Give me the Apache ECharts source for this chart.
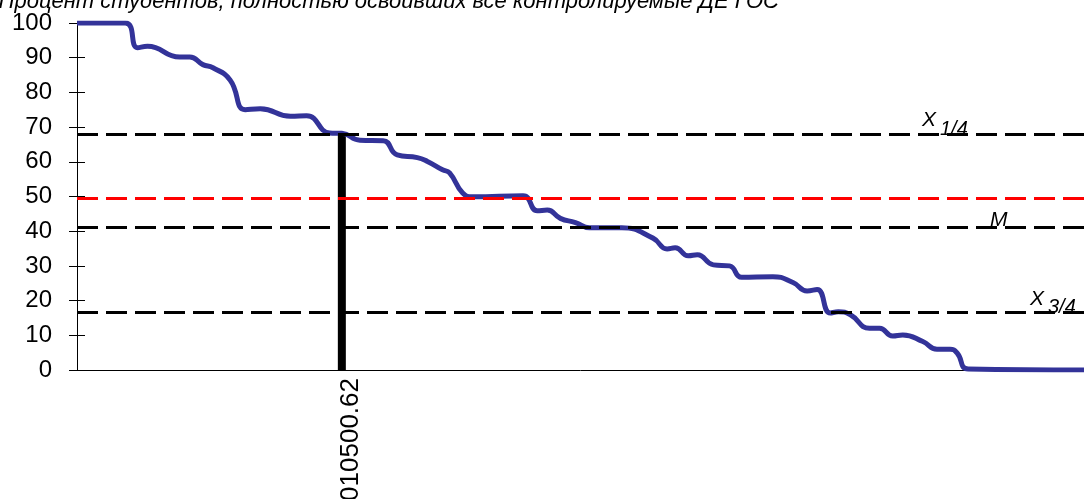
<!DOCTYPE html>
<html>
<head>
<meta charset="utf-8">
<script src="https://cdn.jsdelivr.net/npm/echarts@6/dist/echarts.min.js"></script>
<style>
html, body { margin: 0; padding: 0; background: #fff; }
#chart { width: 1084px; height: 499px; }
</style>
</head>
<body>
<div id="chart"></div>
<script>
// подпись сверху (обрезана в оригинале)
const titleText = 'Процент студентов, полностью освоивших все контролируемые ДЕ ГОС';

// позиция в ранжированном списке (0..100) и процент студентов
const rankPos = [0, 4.8, 6.0, 7.0, 10.2, 11.2, 12.5, 13.5, 15.2, 16.7, 18.2, 21.2, 22.8, 25.1, 26.3,
    28.1, 30.4, 31.8, 33.8, 34.8, 36.3, 37.0, 38.3, 39.3, 44.3, 45.7, 46.7, 48.0, 49.5, 50.9,
    54.1, 57.2, 58.6, 59.4, 60.7, 61.6, 63.2, 64.8, 66.0, 69.1, 71.1, 72.5, 73.5, 74.8, 75.6,
    76.8, 78.7, 79.7, 81.0, 82.0, 84.0, 85.4, 86.7, 87.4, 88.5, 100];
const percentVals = [100, 100, 92.9, 93.3, 90.2, 90.2, 88.0, 87.1, 83.6, 75.0, 75.3, 73.1, 73.3, 68.3, 68.2,
    66.2, 66.1, 62.0, 61.2, 60.1, 57.7, 56.8, 51.0, 49.9, 50.2, 45.9, 46.1, 43.7, 42.5, 41.0,
    41.0, 38.0, 34.9, 35.2, 32.9, 33.2, 30.3, 30.0, 26.7, 26.9, 25.2, 22.8, 23.2, 16.4, 16.8,
    15.9, 12.0, 12.0, 9.8, 10.1, 8.2, 6.0, 6.0, 4.9, 0.3, 0];

// уровни: квартили, среднее, медиана
const levelValues = [68.0, 49.6, 41.2, 16.6];
const levelColors = ['#000000', '#ff0000', '#000000', '#000000'];
const levelMain = ['X', '', 'M', 'X'];
const levelSub = ['1/4', '', '', '3/4'];

// выделенная специальность
const barCode = '010500.62';
const barPos = 26.3;
const barValue = 68.0;

const FONT = '"Liberation Sans", Arial, sans-serif';
const chart = echarts.init(document.getElementById('chart'));

const lineData = rankPos.map((x, i) => [x, percentVals[i]]);
const markData = levelValues.map((v, i) => ({
    yAxis: v,
    lineStyle: { color: levelColors[i], width: 3, type: [21, 8] }
}));

chart.setOption({
    animation: false,
    grid: { left: 77, right: 0, top: 23, bottom: 129, outerBoundsMode: 'none', containLabel: false },
    xAxis: {
        type: 'value', min: 0, max: 100,
        splitLine: { show: false },
        axisLine: { lineStyle: { color: '#000', width: 1 } },
        axisTick: { show: false },
        axisLabel: {
            customValues: [barPos],
            formatter: () => barCode,
            rotate: 90,
            verticalAlign: 'top',
            lineHeight: 18,
            fontSize: 26, color: '#000', fontFamily: FONT, margin: 8
        }
    },
    yAxis: [{
        type: 'value', min: 0, max: 100, interval: 10,
        splitLine: { show: false },
        axisLine: { show: true, lineStyle: { color: '#000', width: 1 } },
        axisTick: { show: true, length: 8, lineStyle: { color: '#000' } },
        axisLabel: { fontSize: 24, color: '#000', fontFamily: FONT, margin: 25 }
    }, {
        // засечки внутрь, чтобы были крестиком
        type: 'value', min: 0, max: 100, interval: 10, position: 'left',
        splitLine: { show: false },
        axisLine: { show: false },
        axisTick: { show: true, inside: true, length: 8, lineStyle: { color: '#000' } },
        axisLabel: { show: false }
    }],
    series: [{
        type: 'bar',
        data: [[barPos, barValue]],
        barWidth: 8,
        itemStyle: { color: '#000' },
        z: 1
    }, {
        type: 'line',
        data: lineData,
        smooth: 0.5,
        showSymbol: false,
        lineStyle: { color: '#333399', width: 5 },
        z: 2,
        markLine: {
            symbol: 'none',
            silent: true,
            label: { show: false },
            data: markData
        }
    }]
});

// подписи уровней и заголовок
const labelX = [922, 0, 990, 1030];
const graphics = [{
    type: 'text', x: 779, y: 13,
    style: { text: titleText, font: 'italic 22px ' + FONT, fill: '#000', align: 'right', verticalAlign: 'bottom' }
}];
levelValues.forEach((v, i) => {
    if (!levelMain[i]) return;
    const py = chart.convertToPixel({ yAxisIndex: 0 }, v);
    const sub = !!levelSub[i];
    graphics.push({
        type: 'text', x: labelX[i], y: sub ? py - 3 : py + 4,
        style: { text: levelMain[i], font: 'italic 21px ' + FONT, fill: '#000', verticalAlign: 'bottom' }
    });
    if (sub) {
        graphics.push({
            type: 'text', x: labelX[i] + 18, y: py + 5,
            style: { text: levelSub[i], font: 'italic 20px ' + FONT, fill: '#000', verticalAlign: 'bottom' }
        });
    }
});
chart.setOption({ graphic: graphics });
</script>
</body>
</html>
